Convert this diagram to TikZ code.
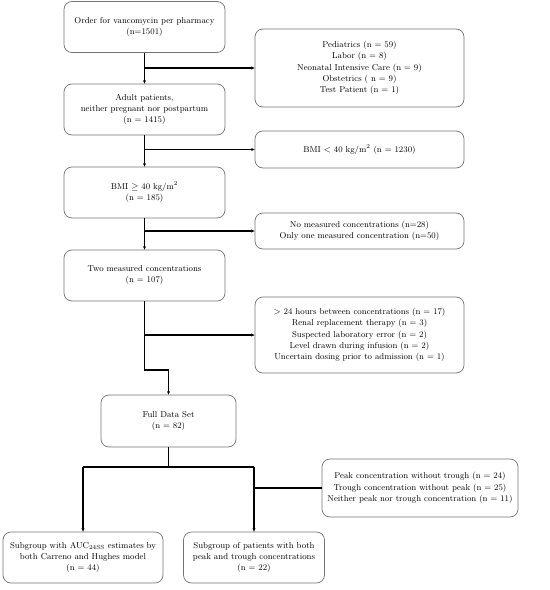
\documentclass[tikz,border=0pt]{standalone}
\usetikzlibrary{arrows.meta}
\begin{document}
\begin{tikzpicture}[x=1bp,y=-1bp,
  box/.style={draw=black!55, line width=0.7bp, rounded corners=8bp, align=center, inner sep=1bp,
    font=\fontsize{8.6}{11.2}\selectfont},
  conn/.style={line width=1.2bp, black},
  arr/.style={conn, -{Stealth[length=3.5bp,width=3bp]}}]
\useasboundingbox (0,0) rectangle (550,590);
\node[box, minimum width=161bp, minimum height=51bp] (b1) at (144.5,27) {Order for vancomycin per pharmacy\\(n=1501)};
\node[box, minimum width=209bp, minimum height=78bp] (r1) at (359.5,68) {Pediatrics (n = 59)\\Labor (n = 8)\\Neonatal Intensive Care (n = 9)\\Obstetrics ( n = 9)\\Test Patient (n = 1)};
\node[box, minimum width=161bp, minimum height=51bp] (b2) at (144.5,109.5) {Adult patients,\\neither pregnant nor postpartum\\(n = 1415)};
\node[box, minimum width=209bp, minimum height=37bp] (r2) at (359.5,149.5) {BMI $<$ 40 kg/m$^2$ (n = 1230)};
\node[box, minimum width=161bp, minimum height=51bp] (b3) at (144.5,192.5) {BMI $\geq$ 40 kg/m$^2$\\(n = 185)};
\node[box, minimum width=209bp, minimum height=36bp] (r3) at (359.5,231) {No measured concentrations (n=28)\\Only one measured concentration (n=50)};
\node[box, minimum width=161bp, minimum height=51bp] (b4) at (144.5,275.5) {Two measured concentrations\\(n = 107)};
\node[box, minimum width=209bp, minimum height=76bp] (r4) at (359.5,335) {$>$ 24 hours between concentrations (n = 17)\\Renal replacement therapy (n = 3)\\Suspected laboratory error (n = 2)\\Level drawn during infusion (n = 2)\\Uncertain dosing prior to admission (n = 1)};
\node[box, minimum width=135bp, minimum height=52bp] (b5) at (168.5,421) {Full Data Set\\(n = 82)};
\node[box, minimum width=196bp, minimum height=58bp] (r5) at (420,488) {Peak concentration without trough (n = 24)\\Trough concentration without peak (n = 25)\\Neither peak nor trough concentration (n = 11)};
\node[box, minimum width=160bp, minimum height=51bp] (b6) at (83,557.5) {Subgroup with AUC$_{\mathrm{24SS}}$ estimates by\\both Carreno and Hughes model\\(n = 44)};
\node[box, minimum width=141bp, minimum height=51bp] (b7) at (254,557.5) {Subgroup of patients with both\\peak and trough concentrations\\(n = 22)};
\coordinate (k) at (0,370);
\coordinate (j) at (0,467);
\draw[arr] (b1.south) -- (b2.north);
\draw[arr] (b1.south |- r1.west) -- (r1.west);
\draw[arr] (b2.south) -- (b3.north);
\draw[arr] (b2.south |- r2.west) -- (r2.west);
\draw[arr] (b3.south) -- (b4.north);
\draw[arr] (b3.south |- r3.west) -- (r3.west);
\draw[arr] (b4.south) -- (b4.south |- k) -- (b5.north |- k) -- (b5.north);
\draw[arr] (b4.south |- r4.west) -- (r4.west);
\draw[conn] (b5.south) -- (b5.south |- j);
\draw[conn] (b6.north |- j) -- (b7.north |- j);
\draw[arr] (b6.north |- j) -- (b6.north);
\draw[arr] (b7.north |- j) -- (b7.north);
\draw[conn] (r5.west) -- (b7.north |- r5.west);
\end{tikzpicture}
\end{document}
